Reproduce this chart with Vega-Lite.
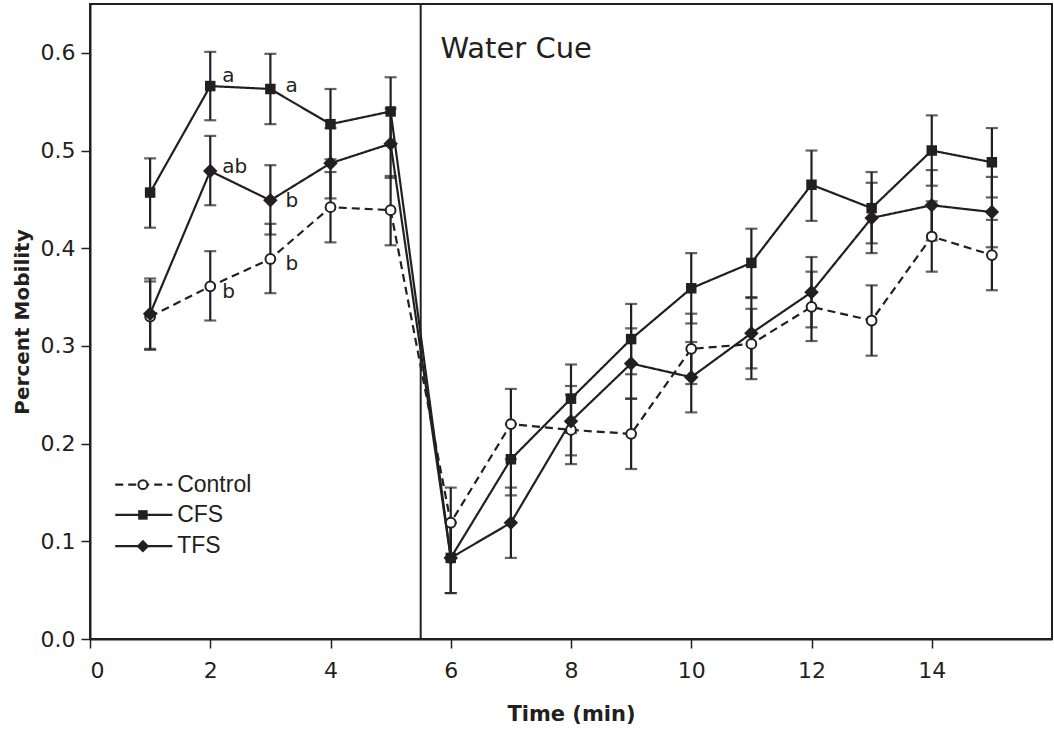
{
  "$schema": "https://vega.github.io/schema/vega-lite/v6.json",
  "width": 962,
  "height": 635,
  "autosize": {"type": "none"},
  "padding": {"left": 90, "top": 4, "right": 2, "bottom": 91},
  "background": "white",
  "config": {
    "view": {"stroke": "#231f20", "strokeWidth": 2},
    "axis": {"grid": false, "domainColor": "#231f20", "domainWidth": 2, "tickColor": "#231f20", "tickWidth": 1.5, "tickSize": 9, "labelColor": "#231f20", "labelFont": "DejaVu Sans", "labelFontSize": 22, "titleFont": "DejaVu Sans", "titleFontWeight": "bold", "titleColor": "#231f20"}
  },
  "datasets": {
    "main": [
      {"t":1,"g":"CFS","m":0.457,"lo":0.421,"hi":0.492},
      {"t":2,"g":"CFS","m":0.566,"lo":0.531,"hi":0.601},
      {"t":3,"g":"CFS","m":0.563,"lo":0.527,"hi":0.599},
      {"t":4,"g":"CFS","m":0.527,"lo":0.491,"hi":0.563},
      {"t":5,"g":"CFS","m":0.540,"lo":0.505,"hi":0.575},
      {"t":6,"g":"CFS","m":0.083,"lo":0.047,"hi":0.119},
      {"t":7,"g":"CFS","m":0.184,"lo":0.147,"hi":0.220},
      {"t":8,"g":"CFS","m":0.246,"lo":0.211,"hi":0.281},
      {"t":9,"g":"CFS","m":0.307,"lo":0.271,"hi":0.343},
      {"t":10,"g":"CFS","m":0.359,"lo":0.323,"hi":0.395},
      {"t":11,"g":"CFS","m":0.385,"lo":0.350,"hi":0.420},
      {"t":12,"g":"CFS","m":0.465,"lo":0.428,"hi":0.500},
      {"t":13,"g":"CFS","m":0.441,"lo":0.405,"hi":0.478},
      {"t":14,"g":"CFS","m":0.500,"lo":0.464,"hi":0.536},
      {"t":15,"g":"CFS","m":0.488,"lo":0.452,"hi":0.523},
      {"t":1,"g":"TFS","m":0.333,"lo":0.297,"hi":0.369},
      {"t":2,"g":"TFS","m":0.479,"lo":0.444,"hi":0.515},
      {"t":3,"g":"TFS","m":0.449,"lo":0.414,"hi":0.485},
      {"t":4,"g":"TFS","m":0.487,"lo":0.451,"hi":0.523},
      {"t":5,"g":"TFS","m":0.507,"lo":0.472,"hi":0.543},
      {"t":6,"g":"TFS","m":0.083,"lo":0.047,"hi":0.119},
      {"t":7,"g":"TFS","m":0.119,"lo":0.083,"hi":0.155},
      {"t":8,"g":"TFS","m":0.223,"lo":0.188,"hi":0.259},
      {"t":9,"g":"TFS","m":0.282,"lo":0.246,"hi":0.318},
      {"t":10,"g":"TFS","m":0.268,"lo":0.232,"hi":0.304},
      {"t":11,"g":"TFS","m":0.313,"lo":0.277,"hi":0.349},
      {"t":12,"g":"TFS","m":0.355,"lo":0.319,"hi":0.391},
      {"t":13,"g":"TFS","m":0.431,"lo":0.395,"hi":0.467},
      {"t":14,"g":"TFS","m":0.444,"lo":0.408,"hi":0.480},
      {"t":15,"g":"TFS","m":0.437,"lo":0.401,"hi":0.473},
      {"t":1,"g":"Control","m":0.330,"lo":0.296,"hi":0.366},
      {"t":2,"g":"Control","m":0.361,"lo":0.326,"hi":0.397},
      {"t":3,"g":"Control","m":0.389,"lo":0.354,"hi":0.425},
      {"t":4,"g":"Control","m":0.442,"lo":0.406,"hi":0.478},
      {"t":5,"g":"Control","m":0.439,"lo":0.403,"hi":0.474},
      {"t":6,"g":"Control","m":0.119,"lo":0.083,"hi":0.155},
      {"t":7,"g":"Control","m":0.220,"lo":0.184,"hi":0.256},
      {"t":8,"g":"Control","m":0.214,"lo":0.179,"hi":0.250},
      {"t":9,"g":"Control","m":0.210,"lo":0.174,"hi":0.246},
      {"t":10,"g":"Control","m":0.297,"lo":0.261,"hi":0.333},
      {"t":11,"g":"Control","m":0.302,"lo":0.266,"hi":0.338},
      {"t":12,"g":"Control","m":0.340,"lo":0.305,"hi":0.376},
      {"t":13,"g":"Control","m":0.326,"lo":0.290,"hi":0.362},
      {"t":14,"g":"Control","m":0.412,"lo":0.376,"hi":0.448},
      {"t":15,"g":"Control","m":0.393,"lo":0.357,"hi":0.429}
    ],
    "letters": [
      {"t":2,"y":0.570,"label":"a","off":"s"},
      {"t":3,"y":0.560,"label":"a","off":"l"},
      {"t":2,"y":0.477,"label":"ab","off":"s"},
      {"t":3,"y":0.442,"label":"b","off":"l"},
      {"t":3,"y":0.378,"label":"b","off":"l"},
      {"t":2,"y":0.349,"label":"b","off":"s"}
    ],
    "legend": [
      {"g":"Control","y":0.158,"x0":0.42,"x1":1.37,"xm":0.88,"xt":1.45},
      {"g":"CFS","y":0.127,"x0":0.42,"x1":1.37,"xm":0.88,"xt":1.45},
      {"g":"TFS","y":0.095,"x0":0.42,"x1":1.37,"xm":0.88,"xt":1.45}
    ],
    "cue": [{"x":5.5,"label":"Water Cue","lx":5.83,"ly":0.595}]
  },
  "layer": [
    {
      "data": {"name": "main"},
      "mark": {"type": "rule", "color": "#231f20", "strokeWidth": 2.2},
      "encoding": {
        "x": {"field": "t", "type": "quantitative", "scale": {"domain": [0, 16]}, "axis": {"values": [0,2,4,6,8,10,12,14], "format": "d", "title": "Time (min)", "titleFontSize": 21, "labelPadding": 12, "titlePadding": 22}},
        "y": {"field": "lo", "type": "quantitative", "scale": {"domain": [0, 0.65]}, "axis": {"values": [0,0.1,0.2,0.3,0.4,0.5,0.6], "format": ".1f", "title": "Percent Mobility", "titleFontSize": 20, "labelPadding": 6, "titlePadding": 8}},
        "y2": {"field": "hi"}
      }
    },
    {
      "data": {"name": "main"},
      "mark": {"type": "tick", "orient": "horizontal", "size": 12, "thickness": 2.2, "color": "#231f20"},
      "encoding": {
        "x": {"field": "t", "type": "quantitative"},
        "y": {"field": "lo", "type": "quantitative"}
      }
    },
    {
      "data": {"name": "main"},
      "mark": {"type": "tick", "orient": "horizontal", "size": 12, "thickness": 2.2, "color": "#231f20"},
      "encoding": {
        "x": {"field": "t", "type": "quantitative"},
        "y": {"field": "hi", "type": "quantitative"}
      }
    },
    {
      "data": {"name": "main"},
      "mark": {"type": "line", "color": "#231f20", "strokeWidth": 2.2},
      "encoding": {
        "x": {"field": "t", "type": "quantitative"},
        "y": {"field": "m", "type": "quantitative"},
        "detail": {"field": "g"},
        "strokeDash": {"field": "g", "type": "nominal", "scale": {"domain": ["Control", "CFS", "TFS"], "range": [[8, 5], [1, 0], [1, 0]]}, "legend": null}
      }
    },
    {
      "data": {"name": "main"},
      "transform": [{"filter": "datum.g == 'Control'"}],
      "mark": {"type": "point", "shape": "circle", "size": 95, "fill": "white", "stroke": "#231f20", "strokeWidth": 2, "opacity": 1, "fillOpacity": 1},
      "encoding": {
        "x": {"field": "t", "type": "quantitative"},
        "y": {"field": "m", "type": "quantitative"}
      }
    },
    {
      "data": {"name": "main"},
      "transform": [{"filter": "datum.g == 'CFS'"}],
      "mark": {"type": "point", "shape": "square", "size": 110, "filled": true, "color": "#231f20", "opacity": 1},
      "encoding": {
        "x": {"field": "t", "type": "quantitative"},
        "y": {"field": "m", "type": "quantitative"}
      }
    },
    {
      "data": {"name": "main"},
      "transform": [{"filter": "datum.g == 'TFS'"}],
      "mark": {"type": "point", "shape": "diamond", "size": 210, "filled": true, "color": "#231f20", "opacity": 1},
      "encoding": {
        "x": {"field": "t", "type": "quantitative"},
        "y": {"field": "m", "type": "quantitative"}
      }
    },
    {
      "data": {"name": "cue"},
      "mark": {"type": "rule", "color": "#231f20", "strokeWidth": 2},
      "encoding": {"x": {"field": "x", "type": "quantitative"}}
    },
    {
      "data": {"name": "cue"},
      "mark": {"type": "text", "font": "DejaVu Sans", "fontSize": 29, "align": "left", "baseline": "alphabetic", "color": "#231f20"},
      "encoding": {
        "x": {"field": "lx", "type": "quantitative"},
        "y": {"field": "ly", "type": "quantitative"},
        "text": {"field": "label"}
      }
    },
    {
      "data": {"name": "letters"},
      "transform": [{"filter": "datum.off == 's'"}],
      "mark": {"type": "text", "font": "DejaVu Sans", "fontSize": 20, "align": "left", "baseline": "alphabetic", "dx": 12, "color": "#231f20"},
      "encoding": {
        "x": {"field": "t", "type": "quantitative"},
        "y": {"field": "y", "type": "quantitative"},
        "text": {"field": "label"}
      }
    },
    {
      "data": {"name": "letters"},
      "transform": [{"filter": "datum.off == 'l'"}],
      "mark": {"type": "text", "font": "DejaVu Sans", "fontSize": 20, "align": "left", "baseline": "alphabetic", "dx": 15, "color": "#231f20"},
      "encoding": {
        "x": {"field": "t", "type": "quantitative"},
        "y": {"field": "y", "type": "quantitative"},
        "text": {"field": "label"}
      }
    },
    {
      "data": {"name": "legend"},
      "mark": {"type": "rule", "color": "#231f20", "strokeWidth": 2.2},
      "encoding": {
        "x": {"field": "x0", "type": "quantitative"},
        "x2": {"field": "x1"},
        "y": {"field": "y", "type": "quantitative"},
        "strokeDash": {"field": "g", "type": "nominal", "legend": null}
      }
    },
    {
      "data": {"name": "legend"},
      "transform": [{"filter": "datum.g == 'Control'"}],
      "mark": {"type": "point", "shape": "circle", "size": 80, "fill": "white", "stroke": "#231f20", "strokeWidth": 2, "opacity": 1, "fillOpacity": 1},
      "encoding": {
        "x": {"field": "xm", "type": "quantitative"},
        "y": {"field": "y", "type": "quantitative"}
      }
    },
    {
      "data": {"name": "legend"},
      "transform": [{"filter": "datum.g == 'CFS'"}],
      "mark": {"type": "point", "shape": "square", "size": 90, "filled": true, "color": "#231f20", "opacity": 1},
      "encoding": {
        "x": {"field": "xm", "type": "quantitative"},
        "y": {"field": "y", "type": "quantitative"}
      }
    },
    {
      "data": {"name": "legend"},
      "transform": [{"filter": "datum.g == 'TFS'"}],
      "mark": {"type": "point", "shape": "diamond", "size": 160, "filled": true, "color": "#231f20", "opacity": 1},
      "encoding": {
        "x": {"field": "xm", "type": "quantitative"},
        "y": {"field": "y", "type": "quantitative"}
      }
    },
    {
      "data": {"name": "legend"},
      "mark": {"type": "text", "font": "Liberation Sans", "fontSize": 23, "align": "left", "baseline": "middle", "color": "#231f20"},
      "encoding": {
        "x": {"field": "xt", "type": "quantitative"},
        "y": {"field": "y", "type": "quantitative"},
        "text": {"field": "g"}
      }
    }
  ]
}
